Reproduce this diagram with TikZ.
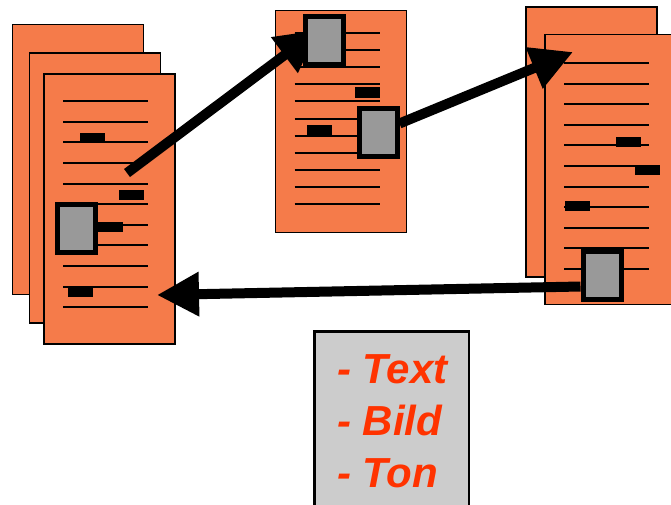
\documentclass[tikz,border=0pt]{standalone}
\usepackage{fontspec}
\newfontfamily\listfont{Liberation Sans}
\definecolor{PageOrange}{HTML}{F57B4A}
\definecolor{PicGray}{HTML}{999999}
\definecolor{BoxGray}{HTML}{CCCCCC}
\definecolor{ListRed}{HTML}{FF3300}
\usetikzlibrary{arrows.meta}

\begin{document}
\begin{tikzpicture}[
  x=1pt, y=-1pt,
  pg/.style={draw=black, line width=1.6pt, fill=PageOrange, inner sep=0pt,
             minimum width=131pt, minimum height=270pt},
  pgs/.style={pg, minimum height=222pt},
  tl/.style={line width=2pt, black},
  bar/.style={fill=black, inner sep=0pt, minimum width=25pt, minimum height=10pt},
  img/.style={draw=black, line width=5pt, fill=PicGray, inner sep=0pt,
              minimum width=38pt, minimum height=48pt},
  ar/.style={-{Triangle[length=42pt, width=42pt]}, line width=10pt, black},
  lst/.style={font=\listfont\bfseries\itshape\fontsize{42}{52}\selectfont,
              text=ListRed, inner sep=0pt, anchor=base west}]
\useasboundingbox (0,0) rectangle (671,504);

% ================= left stack =================
\node[pg] (lb) at (78,159.5) {};
\node[pg] (lm) at (95,188) {};
\node[pg] (lf) at (109.5,209) {};
\foreach \i in {0,...,10}
  \draw[tl] (lf.north west) ++(20,28+20.6*\i) -- ++(85,0);
\node[bar] (lb1) at (92.5,138) {};
\node[bar] (lb2) at (131.5,195) {};
\node[bar] (lb3) at (110,227) {};
\node[bar] (lb4) at (80.5,292) {};

% ================= middle page =================
\node[pgs] (mp) at (341,121.5) {};
\foreach \i in {0,...,10}
  \draw[tl] (mp.north west) ++(20,23.3+17.1*\i) -- ++(85,0);
\node[bar, minimum height=11pt] (mb1) at (367.5,92) {};
\node[bar, minimum height=11pt] (mb2) at (319.5,130) {};

% ================= right stack =================
\node[pg] (rb) at (591.5,142) {};
\node[pg] (rf) at (610.5,169.5) {};
\foreach \i in {0,...,10}
  \draw[tl] (rf.north west) ++(20,29.3+20.6*\i) -- ++(85,0);
\node[bar] (rb1) at (628,142) {};
\node[bar] (rb2) at (647.5,170) {};
\node[bar] (rb3) at (577.5,206) {};

% ================= links =================
% arrow ends; the pictures are drawn over them afterwards
\coordinate (s1) at (127,173);
\coordinate (t1) at (318,30);
\coordinate (s2) at (399.5,123.5);
\coordinate (t2) at (573,52);
\coordinate (s3) at (580.5,286.5);
\coordinate (t3) at (157,295);
\draw[ar] (s1) -- (t1);
\draw[ar] (s2) -- (t2);
\draw[ar] (s3) -- (t3);
\node[img] (limg) at (76.5,228.5) {};
\node[img] (img1) at (324.5,40) {};
\node[img] (img2) at (378,132.5) {};
\node[img] (rimg) at (602,275.5) {};

% ================= media box =================
\node[draw=black, line width=2.5pt, fill=BoxGray, inner sep=0pt, anchor=north,
      minimum width=154.5pt, minimum height=200pt] (mbox) at (391.5,330) {};
\foreach \w [count=\k from 0] in {Text,Bild,Ton}
  \node[lst] (item\k) at (337,383+52*\k) {- \w};
\end{tikzpicture}
\end{document}
